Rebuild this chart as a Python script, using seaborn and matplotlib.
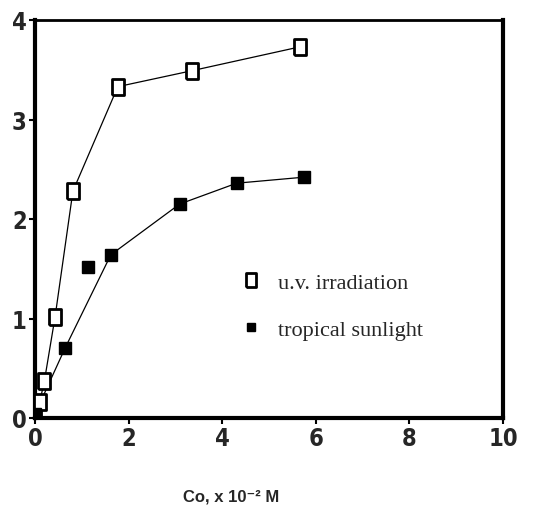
import matplotlib
matplotlib.use("Agg")
import matplotlib.pyplot as plt
import seaborn as sns
import pandas as pd
from matplotlib.lines import Line2D

# Data
uv_x = [0.0, 0.1, 0.2, 0.43, 0.81, 1.77, 3.35, 5.66]
uv_y = [0.0, 0.16, 0.37, 1.02, 2.28, 3.33, 3.49, 3.73]
sun_x = [0.0, 0.64, 1.13, 1.62, 3.09, 4.31, 5.74]
sun_y = [0.04, 0.70, 1.52, 1.64, 2.15, 2.36, 2.42]
# points joined by the drawn curve (outlier at 1.13 is not on the line)
sun_line_x = [0.0, 0.64, 1.62, 3.09, 4.31, 5.74]
sun_line_y = [0.04, 0.70, 1.64, 2.15, 2.36, 2.42]
x_ticks = [0, 2, 4, 6, 8, 10]
y_ticks = [0, 1, 2, 3, 4]
series_labels = ["u.v. irradiation", "tropical sunlight"]
x_label = "Co, x 10\u207b\u00b2 M"

sns.set_theme(style="white")
plt.rcParams['font.family'] = ['DejaVu Sans']

rect = [(-0.38, -0.5), (0.38, -0.5), (0.38, 0.5), (-0.38, 0.5), (-0.38, -0.5)]

fig = plt.figure(figsize=(5.48, 5.06), dpi=100)
ax = fig.add_axes([35/548, 1 - 419/506, (503 - 35)/548, (419 - 21)/506])

uv_df = pd.DataFrame({"x": uv_x, "y": uv_y})
sun_line_df = pd.DataFrame({"x": sun_line_x, "y": sun_line_y})

sns.lineplot(data=uv_df, x="x", y="y", ax=ax, color="black", lw=0.9, sort=False)
sns.lineplot(data=sun_line_df, x="x", y="y", ax=ax, color="black", lw=0.9, sort=False)
ax.plot(uv_x, uv_y, linestyle="none", marker=rect, markersize=11,
        markerfacecolor="white", markeredgecolor="black", markeredgewidth=2.0, zorder=5)
ax.plot(sun_x, sun_y, linestyle="none", marker="s", markersize=9,
        markerfacecolor="black", markeredgecolor="black", zorder=5)

ax.set_xlim(0, 10)
ax.set_ylim(0, 4)
ax.set_xticks(x_ticks)
ax.set_yticks(y_ticks)
ax.set_xticklabels([str(t) for t in x_ticks], fontsize=17, fontweight="bold",
                   fontstretch="condensed")
ax.set_yticklabels([str(t) for t in y_ticks], fontsize=17, fontweight="bold",
                   fontstretch="condensed")
ax.tick_params(axis="both", direction="out", length=4, width=1.5, color="black",
               bottom=True, left=True, pad=2)
ax.set_xlabel("")
ax.set_ylabel("")
for side, lw in [("left", 3), ("bottom", 3), ("right", 3), ("top", 2)]:
    ax.spines[side].set_visible(True)
    ax.spines[side].set_color("black")
    ax.spines[side].set_linewidth(lw)

fig.text(231/548, 1 - 497/506, x_label, ha="center", va="center",
         fontsize=12, fontweight="bold", family=["Liberation Sans", "DejaVu Sans"])

handles = [
    Line2D([], [], linestyle="none", marker=rect, markersize=10,
           markerfacecolor="white", markeredgecolor="black", markeredgewidth=2.0),
    Line2D([], [], linestyle="none", marker="s", markersize=6,
           markerfacecolor="black", markeredgecolor="black"),
]
leg = ax.legend(handles, series_labels, loc="upper left",
                bbox_to_anchor=((220 - 35)/468, (419 - 253)/398),
                frameon=False, handlelength=1.0, handletextpad=0.7,
                labelspacing=1.2, prop={"family": ["Liberation Serif", "DejaVu Serif"], "size": 16})

fig.savefig("out.png", dpi=100)
